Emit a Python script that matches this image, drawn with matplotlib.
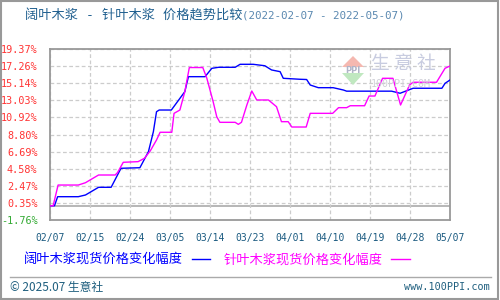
import matplotlib
matplotlib.use("Agg")
import matplotlib.pyplot as plt
from matplotlib.patches import Rectangle, Polygon
from matplotlib.lines import Line2D
import numpy as np

plt.rcParams['font.family'] = ['Noto Sans CJK SC', 'DejaVu Sans']

# ---- data (day offset from 2022-02-07, percent change) ----
blue_days = [0, 1, 1.7, 6.3, 7.9, 10.8, 13.6, 15.8, 20, 21.9, 23, 23.7, 24.3, 27, 30, 30.8,
             34.5, 36, 37.5, 41.2, 42.3, 45.2, 47.8, 49.3, 51.2, 51.9, 55.6, 57.1, 57.9,
             59.7, 63, 65.3, 66, 76, 77.9, 80.8, 87.2, 87.9, 89]
blue_vals = [0, 0, 1.12, 1.12, 1.33, 2.28, 2.28, 4.63, 4.70, 6.68, 9.15, 11.62, 11.83, 11.83,
             14.10, 15.95, 15.95, 16.98, 17.11, 17.11, 17.48, 17.48, 17.30, 16.78, 16.57,
             15.75, 15.63, 15.60, 14.92, 14.59, 14.59, 14.30, 14.16, 14.16, 13.90, 14.52,
             14.52, 15.13, 15.54]

mag_days = [0, 0.7, 1.8, 6.3, 7.9, 10.8, 14.5, 15, 16.3, 19.6, 21, 22.3, 23.7, 24.5, 27.1,
            27.6, 28.9, 30, 31, 34, 34.9, 36.3, 37.1, 37.8, 41.2, 41.9, 42.6, 43.8, 44.9,
            46, 48.6, 50.4, 51.5, 53, 53.8, 57, 57.9, 62.9, 64.2, 66, 66.8, 70, 71, 72.3,
            74, 76.3, 78, 80, 80.8, 86, 87.9, 89]
mag_vals = [0, 0, 2.56, 2.56, 2.85, 3.80, 3.80, 4.08, 5.37, 5.45, 5.86, 6.77, 8.13, 9.08,
            9.08, 11.42, 11.83, 14.10, 17.08, 17.08, 15.75, 12.86, 11.00, 10.31, 10.31,
            10.06, 10.31, 12.45, 14.18, 13.07, 13.07, 12.24, 10.39, 10.39, 9.73, 9.73,
            11.42, 11.42, 12.12, 12.12, 12.36, 12.36, 13.56, 13.56, 15.75, 15.75, 12.45,
            14.92, 15.26, 15.26, 16.99, 17.27]

y_ticks = [-1.76, 0.35, 2.47, 4.58, 6.69, 8.80, 10.92, 13.03, 15.14, 17.26, 19.37]
x_labels = ['02/07', '02/15', '02/24', '03/05', '03/14', '03/23', '04/01', '04/10',
            '04/19', '04/28', '05/07']
blue_name = '阔叶木浆现货价格变化幅度'
mag_name = '针叶木浆现货价格变化幅度'
title_main = '阔叶木浆 - 针叶木浆 价格趋势比较'
title_dates = '(2022-02-07 - 2022-05-07)'

# ---- figure ----
fig = plt.figure(figsize=(5, 3), dpi=100)
fig.patch.set_facecolor('white')
ax = fig.add_axes([0.1, 1 - 220 / 300, 0.8, (220 - 49) / 300])

x_ticks = np.linspace(0, 89, len(x_labels))
ax.set_xlim(0, 89)
ax.set_ylim(y_ticks[0], y_ticks[-1])

ax.set_yticks(y_ticks)
ax.set_yticklabels([f'{v:.2f}%' for v in y_ticks], family='DejaVu Sans Mono', fontsize=7.3)
for lab, v in zip(ax.get_yticklabels(), y_ticks):
    lab.set_color('#ff3333' if v >= 0 else '#33aa33')
ax.set_xticks(x_ticks)
ax.set_xticklabels(x_labels, family='DejaVu Sans Mono', fontsize=7, color='#1a5a80')
ax.tick_params(axis='both', length=0)
ax.tick_params(axis='y', pad=9)
ax.tick_params(axis='x', pad=9)

ax.grid(True, color='#cccccc', linestyle=(0, (3, 2)), linewidth=0.9)
ax.axhline(0, color='#aaaaaa', linewidth=1.2, zorder=1)
for s in ax.spines.values():
    s.set_color('#999999')
    s.set_linewidth(1.3)

# watermark
wm = dict(transform=fig.transFigure, zorder=0)
fig.patches.append(Polygon([[342 / 500, 1 - 67 / 300], [353 / 500, 1 - 56 / 300], [364 / 500, 1 - 67 / 300]],
                           closed=True, facecolor='#f5b8b0', edgecolor='none', **wm))
fig.patches.append(Polygon([[342 / 500, 1 - 73 / 300], [353 / 500, 1 - 85 / 300], [364 / 500, 1 - 73 / 300]],
                           closed=True, facecolor='#c0e8c0', edgecolor='none', **wm))
fig.text(353 / 500, 1 - 70 / 300, 'PPI', fontsize=6, color='#b0b4c8', ha='center', va='center',
         family='DejaVu Sans', fontweight='bold')
fig.text(371 / 500, 1 - 64 / 300, '生 意 社', fontsize=13.5, color='#c8cce0', ha='left', va='center')
fig.text(371 / 500, 1 - 84 / 300, '100PPI.COM', fontsize=7.2, color='#d0d0d8', ha='left', va='center',
         family='DejaVu Sans Mono')

ax.set_facecolor('none')
ax.plot(blue_days, blue_vals, color='#0000ff', linewidth=1.0, label=blue_name, zorder=3)
ax.plot(mag_days, mag_vals, color='#ff00ff', linewidth=1.0, label=mag_name, zorder=3)

leg = ax.legend(loc='center left', bbox_to_anchor=(24 / 500, 1 - 260 / 300),
                bbox_transform=fig.transFigure, ncol=2, frameon=False, markerfirst=False,
                handlelength=1.4, handletextpad=0.65, columnspacing=1.05, fontsize=9.5,
                labelcolor='linecolor', borderaxespad=0, borderpad=0)

# title
t1 = fig.text(25 / 500, 1 - 16 / 300, title_main, fontsize=9.5, color='#1f5f8f', va='center', ha='left',
              family=['DejaVu Sans Mono', 'Noto Sans CJK SC'])
fig.canvas.draw()
bb = t1.get_window_extent()
fig.text(bb.x1 / 500, 1 - 16 / 300, title_dates, fontsize=7.8, color='#5a88b0', va='center', ha='left',
         family='DejaVu Sans Mono')

# footer
fig.add_artist(Line2D([10 / 500, 491 / 500], [1 - 277 / 300, 1 - 277 / 300], transform=fig.transFigure,
                      color='#aaaaaa', linewidth=1))
fig.text(10 / 500, 1 - 287 / 300, '© 2025.07 生意社', fontsize=8.5, color='#1f5f7f', va='center', ha='left')
fig.text(490 / 500, 1 - 287 / 300, 'www.100PPI.com', fontsize=7.3, color='#1f5f7f', va='center', ha='right',
         family='DejaVu Sans Mono')

# outer frame
fig.patches.append(Rectangle((0.002, 0.003), 0.994, 0.994, transform=fig.transFigure, fill=False,
                             edgecolor='#999999', linewidth=1.5))

fig.savefig('out.png', dpi=100)
